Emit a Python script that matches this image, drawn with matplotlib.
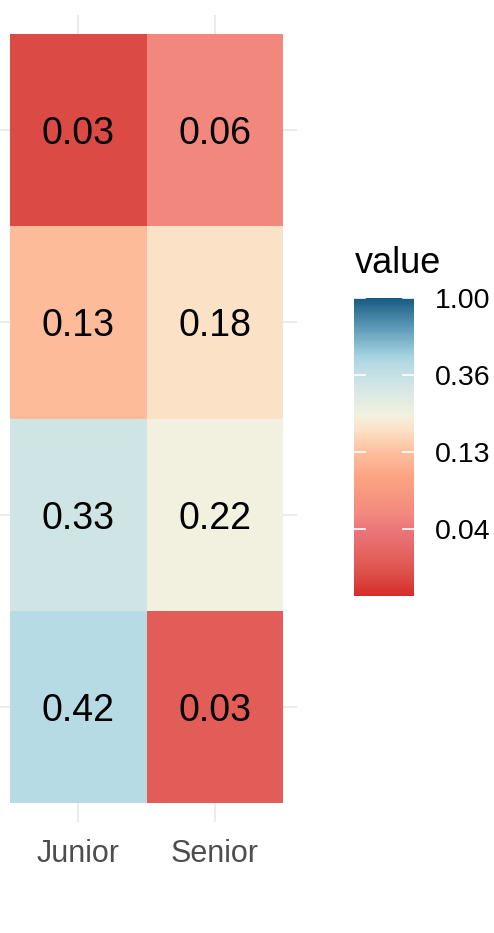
import numpy as np
import matplotlib
matplotlib.use('Agg')
import matplotlib.pyplot as plt
from matplotlib.colors import LinearSegmentedColormap, LogNorm

plt.rcParams['font.family'] = ['Liberation Sans', 'DejaVu Sans']

# dados (linhas de cima para baixo)
categorias = ['Junior', 'Senior']
junior = [0.027, 0.13, 0.33, 0.42]
senior = [0.06, 0.18, 0.22, 0.033]

# escala de cores (log)
vmin, vmax = 0.021, 1.0
cbar_ticks = [1.0, 0.368, 0.135, 0.050]
cbar_labels = ['1.00', '0.36', '0.13', '0.04']

paleta = [
    (0.00, '#D62B2B'),
    (0.07, '#DC4E48'),
    (0.12, '#E35E5A'),
    (0.22, '#EA767A'),
    (0.28, '#F38A7E'),
    (0.40, '#FCA482'),
    (0.48, '#FDBE9C'),
    (0.56, '#FBE2C8'),
    (0.61, '#F2F2E0'),
    (0.71, '#D0E5E5'),
    (0.775, '#B8DCE4'),
    (0.81, '#A2D0E0'),
    (0.90, '#5E9BB8'),
    (1.00, '#185B82'),
]
cmap = LinearSegmentedColormap.from_list('rdbu_custom', paleta)
norm = LogNorm(vmin=vmin, vmax=vmax)

W, H = 494, 933
fig = plt.figure(figsize=(W / 100, H / 100), dpi=100)

# painel principal
ax = fig.add_axes([-4 / W, 1 - 822 / H, 301 / W, 807 / H])
n_linhas = len(junior)
valores = np.array([junior, senior]).T[::-1]  # linha 0 = base
x_edges = np.arange(len(categorias) + 1) + 0.5
y_edges = np.arange(n_linhas + 1) + 0.5
mesh = ax.pcolormesh(x_edges, y_edges, valores, cmap=cmap, norm=norm)

for i in range(n_linhas):
    for j in range(len(categorias)):
        ax.text(j + 1, i + 1, f'{valores[i, j]:.2f}', ha='center', va='center_baseline',
                fontsize=27, color='black')

ax.set_xlim(0.5 - 14 / 136.5, len(categorias) + 0.5 + 14 / 136.5)
ax.set_ylim(0.4, n_linhas + 0.6)
ax.set_xticks(range(1, len(categorias) + 1))
ax.set_xticklabels(categorias)
ax.set_yticks(range(1, n_linhas + 1))
ax.set_yticklabels([])
ax.tick_params(length=0, labelsize=22, labelcolor='#4D4D4D', pad=12)
ax.grid(True, color='#EBEBEB', linewidth=1.5)
ax.set_axisbelow(True)
for s in ax.spines.values():
    s.set_visible(False)

# barra de cores
cax = fig.add_axes([354 / W, 1 - 596 / H, 60 / W, 298 / H])
cbar = fig.colorbar(mesh, cax=cax)
cbar.outline.set_visible(False)
cbar.set_ticks(cbar_ticks)
cbar.set_ticklabels(cbar_labels)
cbar.minorticks_off()
cax.tick_params(length=0, labelsize=20.5, pad=15, labelcolor='black')
for v in cbar_ticks:
    cax.axhline(v, xmin=0, xmax=0.19, color='white', lw=1.2)
    cax.axhline(v, xmin=0.81, xmax=1, color='white', lw=1.2)

fig.text(355 / W, 1 - 273 / H, 'value', fontsize=26, va='baseline', ha='left')

fig.savefig('out.png', dpi=100)
